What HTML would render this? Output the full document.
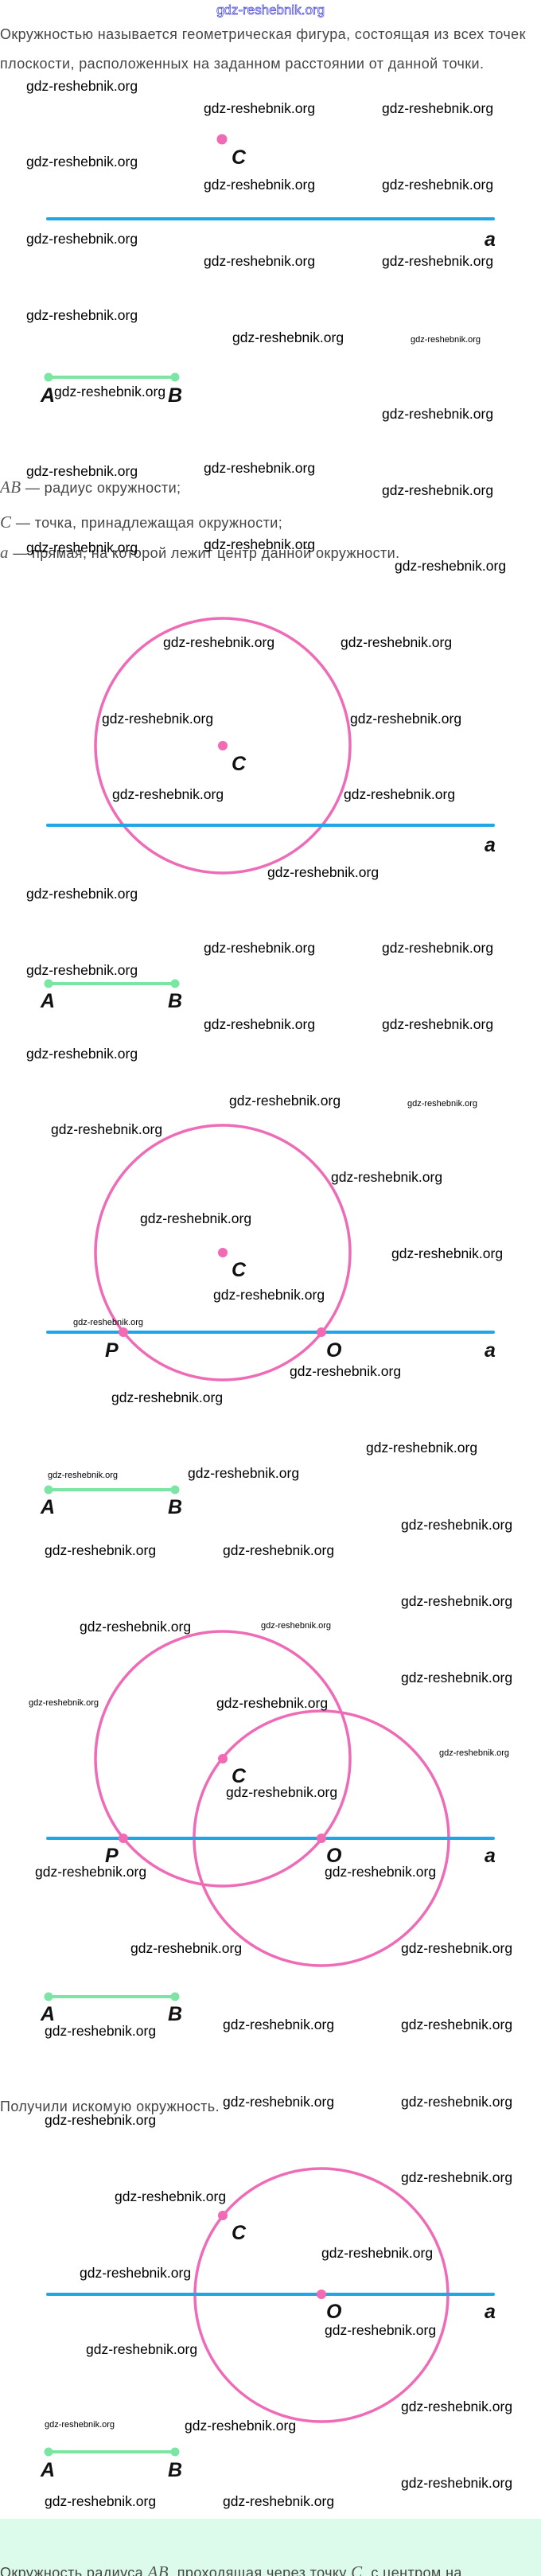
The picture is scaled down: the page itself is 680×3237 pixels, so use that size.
<!DOCTYPE html>
<html><head><meta charset="utf-8">
<style>
html,body{margin:0;padding:0;background:#fff;}
svg{display:block;}
.w{font-family:"Liberation Sans",sans-serif;font-size:17.5px;fill:#000;}
.ws{font-family:"Liberation Sans",sans-serif;font-size:11px;fill:#000;}
.t{font-family:"Liberation Sans","DejaVu Sans",sans-serif;font-size:18px;fill:#454545;letter-spacing:0.4px;}
.m{font-family:"Liberation Serif",serif;font-style:italic;font-size:21px;fill:#555;}
.l{font-family:"Liberation Sans",sans-serif;font-weight:bold;font-style:italic;font-size:25px;fill:#111;}
</style></head><body>
<svg width="680" height="3237" viewBox="0 0 680 3237" xmlns="http://www.w3.org/2000/svg">
<rect x="0" y="3165" width="680" height="72" fill="#dcfbea"/>
<text x="340" y="18" text-anchor="middle" font-family="Liberation Sans,sans-serif" font-size="17" fill="none" stroke="#3a3adc" stroke-width="0.7">gdz-reshebnik.org</text>
<text class="t" x="0" y="49">Окружностью называется геометрическая фигура, состоящая из всех точек</text>
<text class="t" x="0" y="86">плоскости, расположенных на заданном расстоянии от данной точки.</text>

<!-- diagram 1 -->
<line x1="60" y1="275" x2="620" y2="275" stroke="#1ea6e6" stroke-width="4" stroke-linecap="round"/>
<circle cx="279" cy="175" r="6.5" fill="#f06ab4"/>
<text class="l" x="291" y="206">C</text>
<text class="l" x="609" y="309">a</text>
<line x1="61" y1="474" x2="220" y2="474" stroke="#7be6a4" stroke-width="4"/>
<circle cx="61" cy="474" r="5.5" fill="#7be6a4"/><circle cx="220" cy="474" r="5.5" fill="#7be6a4"/>
<text class="l" x="51" y="505">A</text><text class="l" x="211" y="505">B</text>

<text class="t" x="0" y="619"><tspan class="m">AB</tspan> — радиус окружности;</text>
<text class="t" x="0" y="663"><tspan class="m">C</tspan> — точка, принадлежащая окружности;</text>
<text class="t" x="0" y="701"><tspan class="m">a</tspan> — прямая, на которой лежит центр данной окружности.</text>

<!-- diagram 2 -->
<circle cx="280" cy="937" r="160" fill="none" stroke="#ee6cb7" stroke-width="3.5"/>
<line x1="60" y1="1037" x2="620" y2="1037" stroke="#1ea6e6" stroke-width="4" stroke-linecap="round"/>
<circle cx="280" cy="937" r="6" fill="#f06ab4"/>
<text class="l" x="291" y="968">C</text>
<text class="l" x="609" y="1070">a</text>
<line x1="61" y1="1236" x2="220" y2="1236" stroke="#7be6a4" stroke-width="4"/>
<circle cx="61" cy="1236" r="5.5" fill="#7be6a4"/><circle cx="220" cy="1236" r="5.5" fill="#7be6a4"/>
<text class="l" x="51" y="1266">A</text><text class="l" x="211" y="1266">B</text>

<!-- diagram 3 -->
<circle cx="280" cy="1574" r="160" fill="none" stroke="#ee6cb7" stroke-width="3.5"/>
<line x1="60" y1="1674" x2="620" y2="1674" stroke="#1ea6e6" stroke-width="4" stroke-linecap="round"/>
<circle cx="280" cy="1574" r="6" fill="#f06ab4"/>
<circle cx="155" cy="1674" r="6" fill="#f06ab4"/><circle cx="404" cy="1674" r="6" fill="#f06ab4"/>
<text class="l" x="291" y="1604">C</text>
<text class="l" x="132" y="1705">P</text>
<text class="l" x="410" y="1705">O</text>
<text class="l" x="609" y="1705">a</text>
<line x1="61" y1="1872" x2="220" y2="1872" stroke="#7be6a4" stroke-width="4"/>
<circle cx="61" cy="1872" r="5.5" fill="#7be6a4"/><circle cx="220" cy="1872" r="5.5" fill="#7be6a4"/>
<text class="l" x="51" y="1902">A</text><text class="l" x="211" y="1902">B</text>

<!-- diagram 4 -->
<circle cx="280" cy="2210" r="160" fill="none" stroke="#ee6cb7" stroke-width="3.5"/>
<circle cx="404" cy="2310" r="160" fill="none" stroke="#ee6cb7" stroke-width="3.5"/>
<line x1="60" y1="2310" x2="620" y2="2310" stroke="#1ea6e6" stroke-width="4" stroke-linecap="round"/>
<circle cx="280" cy="2210" r="6" fill="#f06ab4"/>
<circle cx="155" cy="2310" r="6" fill="#f06ab4"/><circle cx="404" cy="2310" r="6" fill="#f06ab4"/>
<text class="l" x="291" y="2240">C</text>
<text class="l" x="132" y="2340">P</text>
<text class="l" x="410" y="2340">O</text>
<text class="l" x="609" y="2340">a</text>
<line x1="61" y1="2509" x2="220" y2="2509" stroke="#7be6a4" stroke-width="4"/>
<circle cx="61" cy="2509" r="5.5" fill="#7be6a4"/><circle cx="220" cy="2509" r="5.5" fill="#7be6a4"/>
<text class="l" x="51" y="2539">A</text><text class="l" x="211" y="2539">B</text>

<text class="t" x="0" y="2653">Получили искомую окружность.</text>

<!-- diagram 5 -->
<circle cx="404" cy="2884" r="159" fill="none" stroke="#ee6cb7" stroke-width="3.5"/>
<line x1="60" y1="2883" x2="620" y2="2883" stroke="#1ea6e6" stroke-width="4" stroke-linecap="round"/>
<circle cx="280" cy="2784" r="6" fill="#f06ab4"/>
<circle cx="404" cy="2883" r="6" fill="#f06ab4"/>
<text class="l" x="291" y="2814">C</text>
<text class="l" x="410" y="2913">O</text>
<text class="l" x="609" y="2913">a</text>
<line x1="61" y1="3081" x2="220" y2="3081" stroke="#7be6a4" stroke-width="4"/>
<circle cx="61" cy="3081" r="5.5" fill="#7be6a4"/><circle cx="220" cy="3081" r="5.5" fill="#7be6a4"/>
<text class="l" x="51" y="3112">A</text><text class="l" x="211" y="3112">B</text>

<text class="t" x="0" y="3239">Окружность радиуса <tspan class="m">AB</tspan>, проходящая через точку <tspan class="m">C</tspan>, с центром на</text>

<!-- watermarks -->
<g class="w">
<text x="33" y="114">gdz-reshebnik.org</text>
<text x="256" y="142">gdz-reshebnik.org</text><text x="480" y="142">gdz-reshebnik.org</text>
<text x="33" y="209">gdz-reshebnik.org</text>
<text x="256" y="238">gdz-reshebnik.org</text><text x="480" y="238">gdz-reshebnik.org</text>
<text x="33" y="306">gdz-reshebnik.org</text>
<text x="256" y="334">gdz-reshebnik.org</text><text x="480" y="334">gdz-reshebnik.org</text>
<text x="33" y="402">gdz-reshebnik.org</text>
<text x="292" y="430">gdz-reshebnik.org</text>
<text x="68" y="498">gdz-reshebnik.org</text>
<text x="480" y="526">gdz-reshebnik.org</text>
<text x="33" y="598">gdz-reshebnik.org</text><text x="256" y="594">gdz-reshebnik.org</text>
<text x="480" y="622">gdz-reshebnik.org</text>
<text x="33" y="694">gdz-reshebnik.org</text><text x="256" y="690">gdz-reshebnik.org</text>
<text x="496" y="717">gdz-reshebnik.org</text>
<text x="205" y="813">gdz-reshebnik.org</text><text x="428" y="813">gdz-reshebnik.org</text>
<text x="128" y="909">gdz-reshebnik.org</text><text x="440" y="909">gdz-reshebnik.org</text>
<text x="141" y="1004">gdz-reshebnik.org</text><text x="432" y="1004">gdz-reshebnik.org</text>
<text x="336" y="1102">gdz-reshebnik.org</text>
<text x="33" y="1129">gdz-reshebnik.org</text>
<text x="256" y="1197">gdz-reshebnik.org</text><text x="480" y="1197">gdz-reshebnik.org</text>
<text x="33" y="1225">gdz-reshebnik.org</text>
<text x="256" y="1293">gdz-reshebnik.org</text><text x="480" y="1293">gdz-reshebnik.org</text>
<text x="33" y="1330">gdz-reshebnik.org</text>
<text x="288" y="1389">gdz-reshebnik.org</text>
<text x="64" y="1425">gdz-reshebnik.org</text>
<text x="416" y="1485">gdz-reshebnik.org</text>
<text x="176" y="1537">gdz-reshebnik.org</text>
<text x="492" y="1581">gdz-reshebnik.org</text>
<text x="268" y="1633">gdz-reshebnik.org</text>
<text x="364" y="1729">gdz-reshebnik.org</text>
<text x="140" y="1762">gdz-reshebnik.org</text>
<text x="460" y="1825">gdz-reshebnik.org</text>
<text x="236" y="1857">gdz-reshebnik.org</text>
<text x="504" y="1922">gdz-reshebnik.org</text>
<text x="56" y="1954">gdz-reshebnik.org</text><text x="280" y="1954">gdz-reshebnik.org</text>
<text x="504" y="2018">gdz-reshebnik.org</text>
<text x="100" y="2050">gdz-reshebnik.org</text>
<text x="504" y="2114">gdz-reshebnik.org</text>
<text x="272" y="2146">gdz-reshebnik.org</text>
<text x="284" y="2258">gdz-reshebnik.org</text>
<text x="44" y="2358">gdz-reshebnik.org</text><text x="408" y="2358">gdz-reshebnik.org</text>
<text x="164" y="2454">gdz-reshebnik.org</text><text x="504" y="2454">gdz-reshebnik.org</text>
<text x="56" y="2558">gdz-reshebnik.org</text><text x="280" y="2550">gdz-reshebnik.org</text><text x="504" y="2550">gdz-reshebnik.org</text>
<text x="280" y="2647">gdz-reshebnik.org</text><text x="504" y="2647">gdz-reshebnik.org</text>
<text x="56" y="2670">gdz-reshebnik.org</text>
<text x="504" y="2742">gdz-reshebnik.org</text>
<text x="144" y="2766">gdz-reshebnik.org</text>
<text x="404" y="2837">gdz-reshebnik.org</text>
<text x="100" y="2862">gdz-reshebnik.org</text>
<text x="408" y="2934">gdz-reshebnik.org</text>
<text x="108" y="2958">gdz-reshebnik.org</text>
<text x="504" y="3030">gdz-reshebnik.org</text>
<text x="232" y="3054">gdz-reshebnik.org</text>
<text x="504" y="3126">gdz-reshebnik.org</text>
<text x="56" y="3149">gdz-reshebnik.org</text><text x="280" y="3149">gdz-reshebnik.org</text>
</g>
<g class="ws">
<text x="516" y="430">gdz-reshebnik.org</text>
<text x="512" y="1390">gdz-reshebnik.org</text>
<text x="92" y="1665">gdz-reshebnik.org</text>
<text x="60" y="1857">gdz-reshebnik.org</text>
<text x="328" y="2046">gdz-reshebnik.org</text>
<text x="36" y="2143">gdz-reshebnik.org</text>
<text x="552" y="2206">gdz-reshebnik.org</text>
<text x="56" y="3050">gdz-reshebnik.org</text>
</g>
</svg>
</body></html>
